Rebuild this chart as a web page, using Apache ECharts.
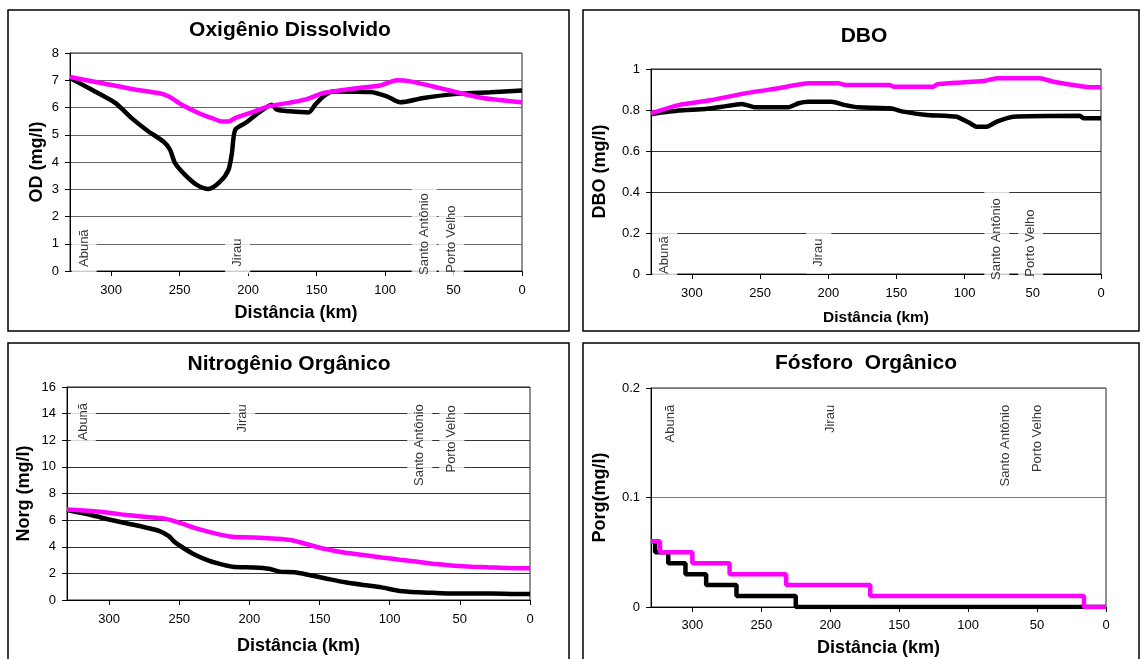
<!DOCTYPE html>
<html>
<head>
<meta charset="utf-8">
<script src="https://cdn.jsdelivr.net/npm/echarts@6/dist/echarts.min.js"></script>
<style>
  html, body { margin: 0; padding: 0; background: #fff; }
  #chart { width: 1141px; height: 659px; }
</style>
</head>
<body>
<div id="chart"></div>
<script>
// Site names along the river
const siteNames = ["Abunã", "Jirau", "Santo Antônio", "Porto Velho"];

// Oxigênio Dissolvido (mg/l) vs distance (km)
const odBlackKm = [330, 314, 297, 285, 272.7, 261.8, 257, 253.3, 246, 237.4, 229, 220.4, 214.3, 211.8, 209.4, 202, 192.4, 182.6, 179, 169.3, 155.9, 151, 145, 137.6, 110.8, 98.6, 88.9, 71.9, 47.5, 23.2, 0];
const odBlack = [7.08, 6.65, 6.17, 5.61, 5.12, 4.75, 4.45, 3.96, 3.53, 3.16, 3.01, 3.28, 3.71, 4.33, 5.18, 5.43, 5.8, 6.1, 5.92, 5.86, 5.82, 6.1, 6.41, 6.59, 6.57, 6.41, 6.19, 6.35, 6.5, 6.56, 6.62];
const odPinkKm = [330, 309.3, 285, 265.4, 258.1, 248.4, 236.2, 226.4, 219.1, 214.3, 209.4, 197.2, 185.1, 169.3, 157, 145, 120.5, 103.5, 91.3, 81.6, 59.7, 40.2, 23.2, 0];
const odPink = [7.12, 6.92, 6.68, 6.53, 6.41, 6.1, 5.8, 5.61, 5.49, 5.49, 5.61, 5.82, 6.04, 6.18, 6.31, 6.53, 6.71, 6.81, 7.0, 6.96, 6.71, 6.47, 6.31, 6.19];

// DBO (mg/l)
const dboBlackKm = [330, 309.8, 290.2, 278, 263.3, 253.5, 229.2, 221.8, 214.5, 197.4, 187.6, 177.9, 154.6, 144.9, 127.8, 105.8, 96, 91.1, 83.8, 76.4, 64.3, 15.4, 13, 0];
const dboBlack = [0.78, 0.797, 0.805, 0.816, 0.829, 0.813, 0.813, 0.833, 0.84, 0.84, 0.824, 0.813, 0.808, 0.792, 0.776, 0.767, 0.735, 0.718, 0.718, 0.743, 0.767, 0.772, 0.76, 0.76];
const dboPinkKm = [330, 309.8, 285.3, 260.9, 236.5, 214.5, 192.5, 187.6, 155, 152.2, 122.9, 120.4, 105.8, 86.3, 76.4, 44.8, 35, 20.3, 8.1, 0];
const dboPink = [0.784, 0.824, 0.849, 0.881, 0.906, 0.93, 0.93, 0.922, 0.922, 0.914, 0.914, 0.925, 0.933, 0.941, 0.955, 0.955, 0.938, 0.922, 0.911, 0.911];

// Nitrogênio Orgânico (mg/l)
const norgBlackKm = [330, 313, 300, 287, 274, 264, 257.4, 253.5, 248.4, 240.6, 230, 222.4, 212, 196.5, 186, 178.4, 168, 157.6, 144.7, 131.7, 118.7, 105.8, 92.8, 80, 67, 51.4, 28, 10, 0];
const norgBlack = [6.75, 6.38, 6.05, 5.75, 5.45, 5.18, 4.8, 4.38, 4.0, 3.5, 3.0, 2.75, 2.5, 2.45, 2.35, 2.13, 2.08, 1.88, 1.6, 1.33, 1.13, 0.95, 0.68, 0.58, 0.53, 0.48, 0.48, 0.45, 0.45];
const norgPinkKm = [330, 313, 300, 287, 266.5, 261, 256, 248.4, 235.4, 222.4, 212, 196.5, 181, 170.6, 162.8, 152.4, 144.7, 131.7, 118.7, 105.8, 92.8, 80, 67, 54, 41, 28, 15, 0];
const norgPink = [6.8, 6.68, 6.55, 6.38, 6.18, 6.13, 6.0, 5.75, 5.3, 4.95, 4.75, 4.7, 4.6, 4.5, 4.3, 4.0, 3.8, 3.55, 3.38, 3.2, 3.03, 2.88, 2.7, 2.58, 2.5, 2.45, 2.4, 2.38];

// Fósforo Orgânico (mg/l), step changes
const porgBlackKm = [330, 327, 317.5, 305, 290, 268, 225, 0];
const porgBlack = [0.06, 0.05, 0.04, 0.03, 0.02, 0.01, 0, 0];
const porgPinkKm = [330, 323.5, 300, 273, 232, 171, 16, 0];
const porgPink = [0.06, 0.05, 0.04, 0.03, 0.02, 0.01, 0, 0];

// Site label anchors (km, value) for each panel
const siteKmOD = [319.7, 207.6, 71.4, 51.6];
const siteYOD = [-0.11, -0.1, -0.4, -0.32];
const siteKmDBO = [319.9, 206.9, 76.4, 51.6];
const siteYDBO = [-0.034, 0.001, -0.063, -0.047];
const siteKmNorg = [318.4, 204.8, 78.6, 55.7];
const siteYNorg = [15.33, 15.23, 15.23, 15.15];
const siteKmPorg = [315.6, 199.8, 73.2, 49.7];
const siteYPorg = [0.191, 0.191, 0.191, 0.191];

const font = "Liberation Sans";

function pairs(xs, ys) {
  return xs.map((x, i) => [x, ys[i]]);
}

function distanceAxis(idx, labelMargin, nameGap, nameSize) {
  return {
    type: "value",
    gridIndex: idx,
    min: 0,
    max: 330,
    interval: 50,
    inverse: true,
    name: "Distância (km)",
    nameLocation: "middle",
    nameGap: nameGap,
    nameTextStyle: { fontFamily: font, fontWeight: "bold", fontSize: nameSize, color: "#000" },
    axisLine: { show: true, onZero: false, lineStyle: { color: "#000", width: 1 } },
    axisTick: { show: true, length: 5, lineStyle: { color: "#000" } },
    axisLabel: { margin: labelMargin, fontFamily: font, fontSize: 13, color: "#000", showMaxLabel: false },
    splitLine: { show: false },
  };
}

function valueAxis(idx, max, interval, name, nameGap, gridColor) {
  return {
    type: "value",
    gridIndex: idx,
    min: 0,
    max: max,
    interval: interval,
    name: name,
    nameLocation: "middle",
    nameGap: nameGap,
    nameTextStyle: { fontFamily: font, fontWeight: "bold", fontSize: 18, color: "#000" },
    axisLine: { show: true, onZero: false, lineStyle: { color: "#000", width: 1 } },
    axisTick: { show: true, length: 5, lineStyle: { color: "#000" } },
    axisLabel: { margin: 11, fontFamily: font, fontSize: 13, color: "#000" },
    splitLine: { show: true, lineStyle: { color: gridColor, width: 1 } },
  };
}

function curve(idx, data, color, smooth, step) {
  return {
    type: "line",
    xAxisIndex: idx,
    yAxisIndex: idx,
    data: data,
    showSymbol: false,
    smooth: smooth,
    step: step,
    silent: true,
    lineStyle: { color: color, width: 4.5 },
    itemStyle: { color: color },
    z: 3,
  };
}

function siteLabels(idx, km, anchor, fromTop) {
  return {
    type: "scatter",
    xAxisIndex: idx,
    yAxisIndex: idx,
    data: km.map((d, j) => ({ name: siteNames[j], value: [d, anchor[j]] })),
    symbolSize: 1,
    itemStyle: { color: "transparent" },
    clip: false,
    silent: true,
    z: 2,
    label: {
      show: true,
      formatter: "{b}",
      position: "inside",
      rotate: 90,
      align: fromTop ? "right" : "left",
      verticalAlign: "middle",
      fontFamily: font,
      fontSize: 13,
      color: "#000",
      textBorderWidth: 0,
      backgroundColor: "#fff",
      padding: [6, 7, 6, 7],
    },
  };
}

function panelTitle(text, cx, top) {
  return {
    text: text,
    left: cx,
    top: top,
    textAlign: "center",
    padding: 0,
    textStyle: { fontFamily: font, fontWeight: "bold", fontSize: 21, color: "#000" },
  };
}

function box(x, y, w, h) {
  return {
    type: "rect",
    shape: { x: x, y: y, width: w, height: h },
    style: { fill: null, stroke: "#000", lineWidth: 1.5 },
    silent: true,
  };
}

const chart = echarts.init(document.getElementById("chart"), null, { renderer: "canvas" });

chart.setOption({
  backgroundColor: "#fff",
  animation: false,
  title: [
    panelTitle("Oxigênio Dissolvido", 290, 20),
    panelTitle("DBO", 864, 26),
    panelTitle("Nitrogênio Orgânico", 289, 354),
    panelTitle("Fósforo  Orgânico", 866, 353),
  ],
  graphic: [
    box(8, 10, 561, 321),
    box(583, 10, 556, 321),
    box(8, 343, 561, 330),
    box(583, 343, 556, 330),
  ],
  grid: [
    { left: 70, top: 53, width: 452, height: 218, show: true, borderColor: "#222", borderWidth: 1 },
    { left: 651, top: 69, width: 450, height: 205, show: true, borderColor: "#222", borderWidth: 1 },
    { left: 67, top: 387, width: 463, height: 213, show: true, borderColor: "#222", borderWidth: 1 },
    { left: 651, top: 388, width: 455, height: 219, show: true, borderColor: "#222", borderWidth: 1 },
  ],
  xAxis: [
    distanceAxis(0, 13, 33, 18),
    distanceAxis(1, 13, 36, 15.5),
    distanceAxis(2, 13, 37, 18),
    distanceAxis(3, 12, 32, 18),
  ],
  yAxis: [
    valueAxis(0, 8, 1, "OD (mg/l)", 24, "#666"),
    valueAxis(1, 1, 0.2, "DBO (mg/l)", 42, "#333"),
    valueAxis(2, 16, 2, "Norg (mg/l)", 34, "#333"),
    valueAxis(3, 0.2, 0.1, "Porg(mg/l)", 42, "#777"),
  ],
  series: [
    siteLabels(0, siteKmOD, siteYOD, false),
    curve(0, pairs(odBlackKm, odBlack), "#000000", 0.25, false),
    curve(0, pairs(odPinkKm, odPink), "#ff00ff", 0.25, false),

    siteLabels(1, siteKmDBO, siteYDBO, false),
    curve(1, pairs(dboBlackKm, dboBlack), "#000000", 0.15, false),
    curve(1, pairs(dboPinkKm, dboPink), "#ff00ff", 0.15, false),

    siteLabels(2, siteKmNorg, siteYNorg, true),
    curve(2, pairs(norgBlackKm, norgBlack), "#000000", 0.25, false),
    curve(2, pairs(norgPinkKm, norgPink), "#ff00ff", 0.25, false),

    siteLabels(3, siteKmPorg, siteYPorg, true),
    curve(3, pairs(porgBlackKm, porgBlack), "#000000", false, "end"),
    curve(3, pairs(porgPinkKm, porgPink), "#ff00ff", false, "end"),
  ],
});
</script>
</body>
</html>
